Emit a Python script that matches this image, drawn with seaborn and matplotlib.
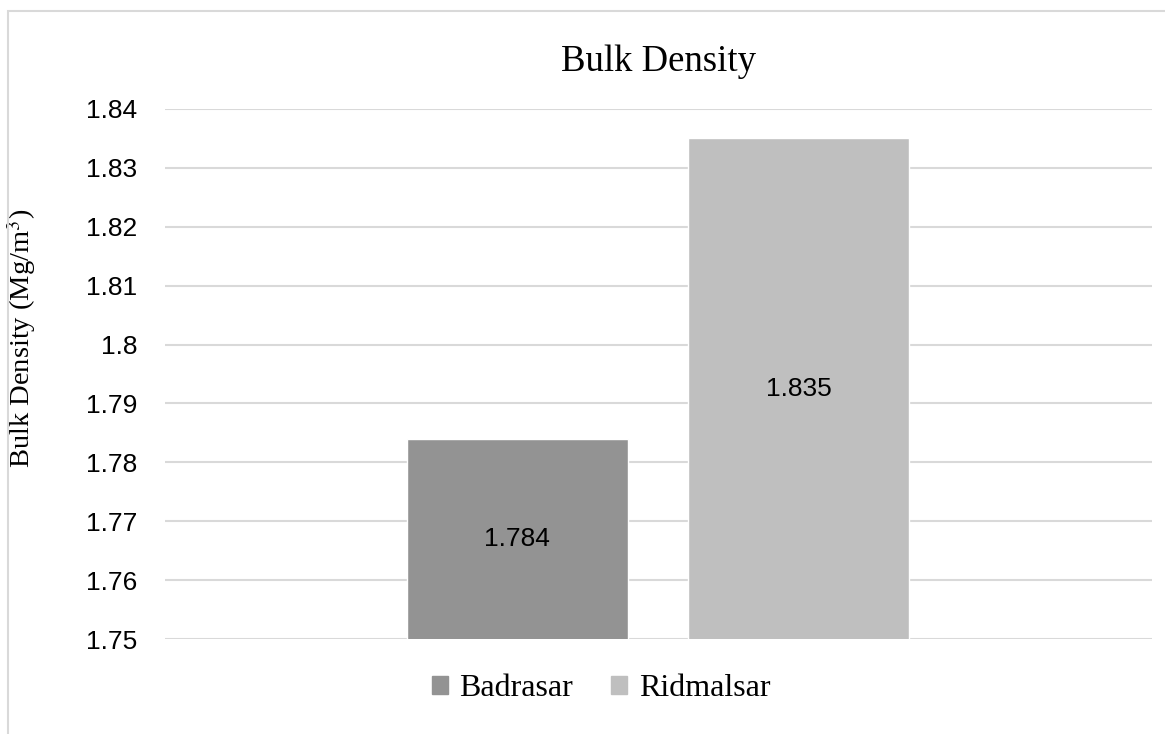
import matplotlib
matplotlib.use("Agg")
import matplotlib.pyplot as plt
import matplotlib.patches as mpatches
import seaborn as sns

# --data
sites = ["Badrasar", "Ridmalsar"]
bulk_density = [1.784, 1.835]
bar_colors = ["#939393", "#bfbfbf"]
y_ticks = [1.75, 1.76, 1.77, 1.78, 1.79, 1.80, 1.81, 1.82, 1.83, 1.84]
y_tick_labels = ["1.75", "1.76", "1.77", "1.78", "1.79", "1.8", "1.81", "1.82", "1.83", "1.84"]

SERIF = "Liberation Serif"
SANS = "Liberation Sans"

sns.set_style("white")
plt.rcParams["font.family"] = [SANS, "DejaVu Sans"]
plt.rcParams["text.color"] = "black"
plt.rcParams["axes.labelcolor"] = "black"

fig = plt.figure(figsize=(11.65, 7.34), dpi=100)
ax = fig.add_axes([0.1416, 0.1294, 0.8472, 0.7221])

sns.barplot(x=sites, y=bulk_density, hue=sites, palette=bar_colors,
            width=0.786, legend=False, saturation=1, ax=ax, zorder=3)

ax.set_ylim(1.75, 1.84)
ax.set_xlim(-1.254, 2.258)
ax.set_yticks(y_ticks)
ax.set_yticklabels(y_tick_labels, fontsize=19, color="black")
ax.tick_params(axis="y", length=0, pad=20)
ax.set_xticks([])
ax.yaxis.grid(True, color="#d9d9d9", linewidth=1.5, zorder=0)
ax.set_axisbelow(True)
for side in ["top", "right", "left", "bottom"]:
    ax.spines[side].set_visible(False)

for container in ax.containers:
    ax.bar_label(container, fmt="%.3f", label_type="center", fontsize=19,
                 color="black")

ax.set_title("Bulk Density", family=SERIF, fontsize=26.5, pad=27,
             color="black")
ax.set_ylabel("Bulk Density (Mg/m$^3$)", family=SERIF, fontsize=20.5,
              color="black")
ax.yaxis.label.set_math_fontfamily("stix")
ax.yaxis.label.set_verticalalignment("center")
ax.yaxis.label.set_horizontalalignment("center")
ax.yaxis.set_label_coords(-0.145, 0.568)

handles = [mpatches.Patch(color=c, label=s) for s, c in zip(sites, bar_colors)]
fig.legend(handles=handles, loc="center", bbox_to_anchor=(0.516, 0.062),
           ncol=2, frameon=False, prop={"family": SERIF, "size": 23},
           handlelength=0.5, handleheight=0.5, handletextpad=0.35,
           columnspacing=1.2, labelcolor="black")

# chart area border (left and top edges visible, cropped at right/bottom)
fig.patches.append(mpatches.Rectangle((0.007, -0.05), 1.05, 1.035,
                                      transform=fig.transFigure,
                                      fill=False, edgecolor="#d9d9d9",
                                      linewidth=1.5))

fig.savefig("out.png", dpi=100)
